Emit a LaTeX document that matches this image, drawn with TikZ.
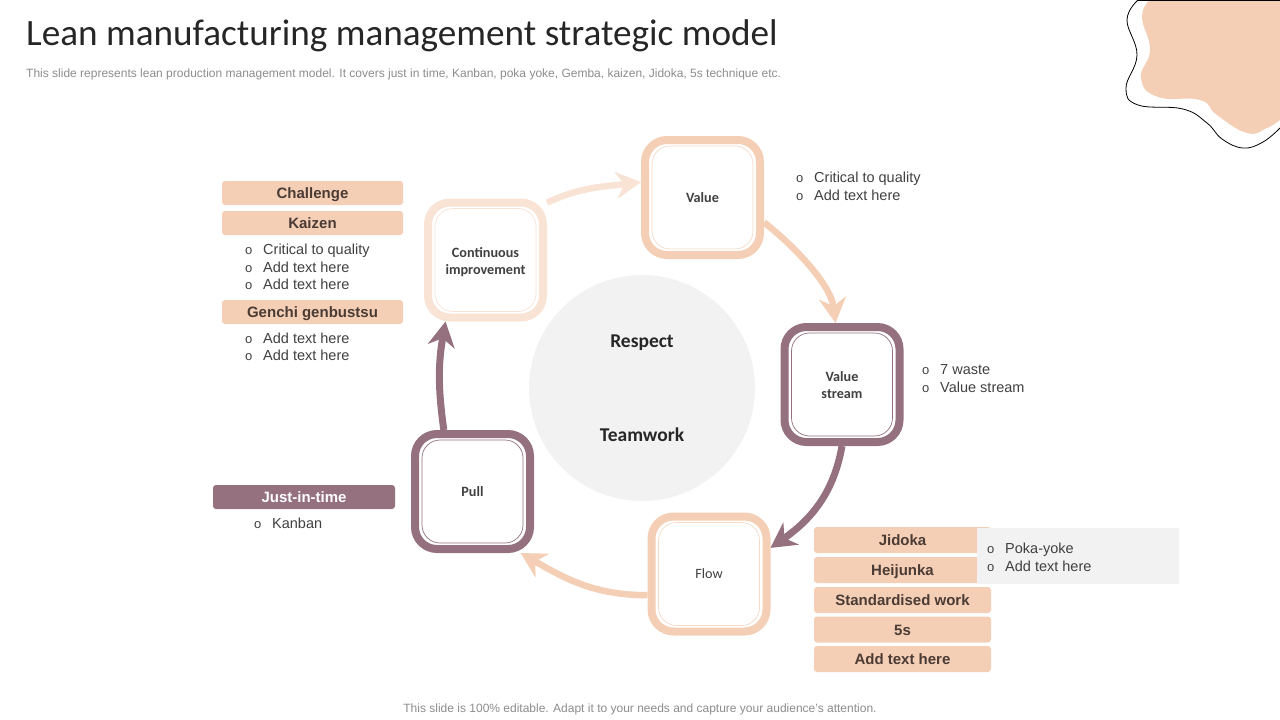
\documentclass[tikz,border=0pt]{standalone}
\usepackage{fontspec}
\setmainfont{Liberation Sans}
\newfontfamily\boxfont{Carlito}
\usepackage{tikz}
\usetikzlibrary{arrows.meta,backgrounds}
\definecolor{peach}{HTML}{F5CFB5}
\definecolor{paleline}{HTML}{F9E3D5}
\definecolor{plum}{HTML}{95707F}
\definecolor{softgrey}{HTML}{F2F2F2}
\definecolor{inkbrown}{HTML}{4A3B35}
\definecolor{inkgrey}{HTML}{404040}
\definecolor{notegrey}{HTML}{8C8C8C}
\newcommand{\bul}{\makebox[18pt][l]{\fontsize{13}{13}\selectfont o}}
\tikzstyle{stagebox}=[fill=white, line width=8, rounded corners=22, minimum width=115, minimum height=115, align=center, text=inkgrey, inner sep=0, font=\boxfont\bfseries\fontsize{14.2}{17}\selectfont]
\tikzstyle{stageline}=[line width=0.7, rounded corners=18, minimum width=101, minimum height=103, inner sep=0]
\tikzstyle{headbox}=[fill=peach, rounded corners=3, text=inkbrown, inner sep=0, text height=14.5, text depth=3, font=\bfseries\fontsize{15}{17}\selectfont]
\tikzstyle{listitem}=[anchor=west, inner sep=0, text=inkgrey, text height=14.5, text depth=3, font=\fontsize{14.5}{17}\selectfont]
\tikzstyle{arrow}=[line width=6.5, -{Stealth[length=25pt, width=27pt, inset=8pt]}]
\begin{document}
\begin{tikzpicture}[x=1pt, y=-1pt]
	\useasboundingbox (0,0) rectangle (1280,720);
	\begin{scope}
		% corner blob
		\path [fill=peach] plot [smooth, tension=0.8] coordinates {(1150,0) (1142,17) (1150,50) (1141,78) (1158,97) (1200,100) (1217,115) (1247,133) (1267,128) (1280,120)} -- (1280,0) -- cycle;
		\draw [line width=0.8] plot [smooth, tension=0.7] coordinates {(1138,0) (1127,20) (1137,55) (1126,88) (1138,105) (1183,109) (1207,123) (1222,139) (1243,148) (1263,142) (1280,128)};
		\draw [line width=0.8] (1138,0) -- (1280,0);
	\end{scope}
	\begin{scope}
		\node (title) at (26,36)[anchor=west, inner sep=0, text=black!85, font=\boxfont\fontsize{37.2}{44}\selectfont] {Lean manufacturing management strategic model};
		\node (subtitle) at (26,74)[anchor=west, inner sep=0, text=notegrey, font=\fontsize{12}{14}\selectfont] {This slide represents lean production management model. It covers just in time, Kanban, poka yoke, Gemba, kaizen, Jidoka, 5s technique etc.};
		\node (footer) at (640,709)[inner sep=0, text=notegrey, font=\fontsize{12}{14}\selectfont] {This slide is 100\% editable. Adapt it to your needs and capture your audience's attention.};
	\end{scope}
	\begin{scope}
		\node (core) at (642,388)[circle, fill=softgrey, minimum size=226, inner sep=0] {};
		\node (respect) at (642,343)[inner sep=0, text=black!85, font=\boxfont\bfseries\fontsize{19.5}{22}\selectfont] {Respect};
		\node (teamwork) at (642,435)[inner sep=0, text=black!85, font=\boxfont\bfseries\fontsize{19.5}{22}\selectfont] {Teamwork};
	\end{scope}
	\begin{scope}
		\node (improve) at (485.5,260)[stagebox, draw=paleline] {\rule{0pt}{14pt}Continuous\\improvement};
		\node (value) at (702.5,197.5)[stagebox, draw=peach] {Value};
		\node (stream) at (842,384.5)[stagebox, draw=plum] {\rule{0pt}{12pt}Value\\stream};
		\node (flow) at (709,574)[stagebox, draw=peach] {\mdseries Flow};
		\node (pull) at (472.5,491.5)[stagebox, draw=plum] {Pull};
		\node (improveline) at (improve)[stageline, draw=paleline] {};
		\node (valueline) at (value)[stageline, draw=peach!70!softgrey] {};
		\node (streamline) at (stream)[stageline, draw=plum] {};
		\node (flowline) at (flow)[stageline, draw=peach!70!softgrey] {};
		\node (pullline) at (pull)[stageline, draw=plum] {};
	\end{scope}
	\begin{scope}[on background layer]
		\path [arrow, color=paleline] (improve.43) edge[out=25, in=187] (value.166);
		\path [arrow, color=peach] (value.-22) edge[out=-38, in=97, looseness=0.8] (stream.96);
		\path [arrow, line width=7, color=plum] (stream.south) edge[out=-100, in=35] (flow.23);
		\path [arrow, color=peach] (flow.199) edge[out=180, in=-30] (pull.-52);
		\path [arrow, line width=7, color=plum] (pull.115) edge[out=98, in=-100] (improve.237);
	\end{scope}
	\begin{scope}
		\node (challenge) at (312.5,193)[headbox, minimum width=181, minimum height=24] {Challenge};
		\node (kaizen) at (312.5,223)[headbox, minimum width=181, minimum height=24] {Kaizen};
		\node (genchi) at (312.5,312)[headbox, minimum width=181, minimum height=24] {Genchi genbustsu};
		\node (justintime) at (304,497)[headbox, fill=plum, text=white, minimum width=182, minimum height=24] {Just-in-time};
		\node (jidoka) at (902.5,540)[headbox, minimum width=177, minimum height=26] {Jidoka};
		\node (heijunka) at (902.5,570)[headbox, minimum width=177, minimum height=26] {Heijunka};
		\node (standard) at (902.5,600)[headbox, minimum width=177, minimum height=26] {Standardised work};
		\node (fives) at (902.5,629.5)[headbox, minimum width=177, minimum height=26] {5s};
		\node (addtext) at (902.5,659)[headbox, minimum width=177, minimum height=26] {Add text here};
		\node (greynote) at (1078,556)[fill=softgrey, inner sep=0, minimum width=202, minimum height=56] {};
	\end{scope}
	\begin{scope}
		\node (value1) at (796,177)[listitem] {\bul Critical to quality};
		\node (value2) at (796,195)[listitem] {\bul Add text here};
		\node (stream1) at (922,369)[listitem] {\bul 7 waste};
		\node (stream2) at (922,387)[listitem] {\bul Value stream};
		\node (kaizen1) at (245,249)[listitem] {\bul Critical to quality};
		\node (kaizen2) at (245,267)[listitem] {\bul Add text here};
		\node (kaizen3) at (245,284)[listitem] {\bul Add text here};
		\node (genchi1) at (245,338)[listitem] {\bul Add text here};
		\node (genchi2) at (245,355)[listitem] {\bul Add text here};
		\node (kanban) at (254,523)[listitem] {\bul Kanban};
		\node (poka1) at (987,548)[listitem] {\bul Poka-yoke};
		\node (poka2) at (987,566)[listitem] {\bul Add text here};
	\end{scope}
\end{tikzpicture}
\end{document}
